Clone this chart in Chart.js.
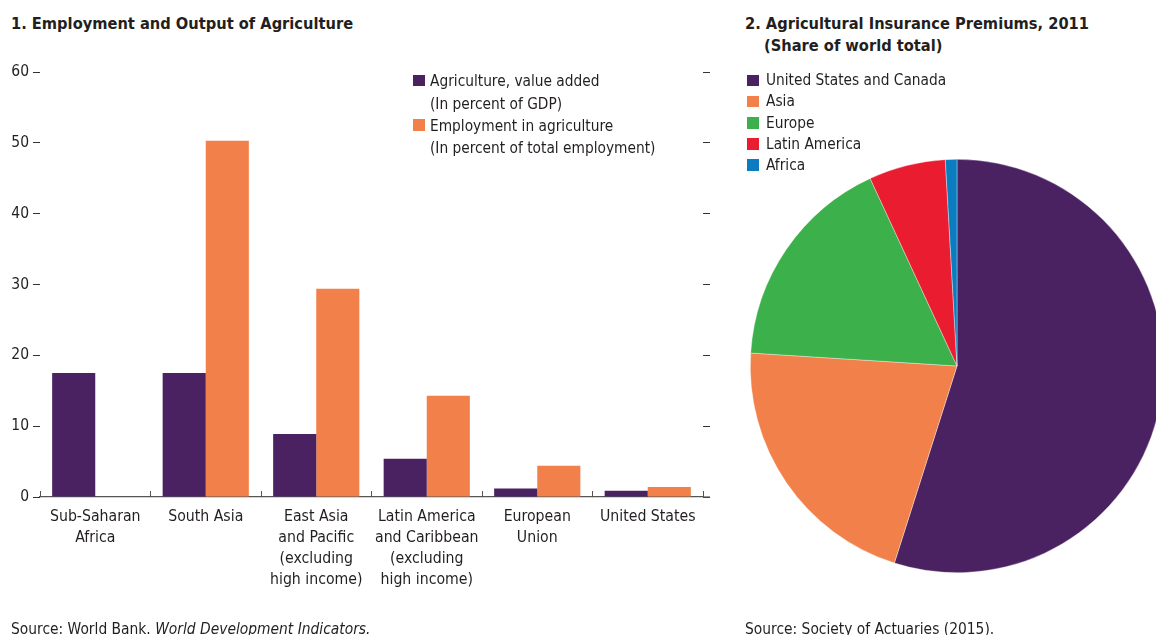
<!DOCTYPE html>
<html>
<head>
<meta charset="utf-8">
<script src="https://cdn.jsdelivr.net/npm/chart.js@4.4.1/dist/chart.umd.min.js"></script>
<style>
  html, body { margin: 0; padding: 0; background: #fff; }
  body {
    position: relative; width: 1156px; height: 635px; overflow: hidden;
    font-family: 'DejaVu Sans Condensed', 'Liberation Sans Narrow', sans-serif;
    color: #231f20;
  }
  .title { position: absolute; font-weight: bold; font-size: 16.3px; line-height: 22px; white-space: nowrap; }
  .source { position: absolute; font-size: 15.4px; line-height: 20px; white-space: nowrap; top: 618.7px; }
  .legend { position: absolute; font-size: 15.3px; white-space: nowrap; }
  .legend .item { position: relative; }
  .legend .box { position: absolute; width: 11.5px; height: 11.5px; top: 4.5px; }
  canvas { position: absolute; }
</style>
</head>
<body>
<div class="title" style="left:11px; top:13px;">1. Employment and Output of Agriculture</div>
<div class="title" style="left:745px; top:13.4px;">2. Agricultural Insurance Premiums, 2011</div>
<div class="title" style="left:764px; top:35.4px;">(Share of world total)</div>

<canvas id="barChart" width="720" height="635" style="left:0; top:0;"></canvas>
<canvas id="pieChart" width="430" height="430" style="left:742px; top:151px;"></canvas>

<div class="legend" id="barLegend" style="left:413px; top:70.3px; line-height:22.2px;"></div>
<div class="legend" id="pieLegend" style="left:747px; top:70.1px; line-height:21.2px;"></div>

<div class="source" style="left:11px;">Source: World Bank. <i>World Development Indicators.</i></div>
<div class="source" style="left:745px;">Source: Society of Actuaries (2015).</div>

<script>
// Panel 1: agriculture share of GDP vs share of employment
const regions = [
    ['Sub-Saharan', 'Africa'],
    ['South Asia'],
    ['East Asia', 'and Pacific', '(excluding', 'high income)'],
    ['Latin America', 'and Caribbean', '(excluding', 'high income)'],
    ['European', 'Union'],
    ['United States']
];
const valueAdded = [17.5, 17.5, 8.9, 5.4, 1.2, 0.9];
const employment = [null, 50.3, 29.4, 14.3, 4.4, 1.4];
const barSeries = [
    ['Agriculture, value added', '(In percent of GDP)'],
    ['Employment in agriculture', '(In percent of total employment)']
];
const yMin = 0, yMax = 60, yStep = 10;

// Panel 2: agricultural insurance premiums, share of world total
const premiumRegions = ['United States and Canada', 'Asia', 'Europe', 'Latin America', 'Africa'];
const premiumShares = [54.9, 21.1, 17.1, 6.0, 0.9];

const PURPLE = '#4a2262';
const ORANGE = '#f2804a';
const pieColors = [PURPLE, ORANGE, '#3cb14b', '#e91d2f', '#0b7cbf'];
const barColors = [PURPLE, ORANGE];

const FONT = "'DejaVu Sans Condensed', 'Liberation Sans Narrow', sans-serif";
const TEXT = '#231f20';
const AXIS = '#555';

function buildLegend(id, labels, colors, indent) {
    const el = document.getElementById(id);
    el.innerHTML = labels.map((lines, i) => {
        lines = Array.isArray(lines) ? lines : [lines];
        return `<div class="item" style="padding-left:${indent}px"><span class="box" style="background:${colors[i]}; left:0;"></span>${lines.join('<br>')}</div>`;
    }).join('');
}

// carry the baseline on under the right-hand tick marks
const axisRunout = {
    id: 'axisRunout',
    afterDraw(chart) {
        const { ctx, chartArea } = chart;
        const y2 = chart.scales.y2;
        ctx.save();
        ctx.strokeStyle = AXIS;
        ctx.lineWidth = 1.2;
        ctx.beginPath();
        ctx.moveTo(chartArea.right, chartArea.bottom);
        ctx.lineTo(y2.right, chartArea.bottom);
        ctx.stroke();
        ctx.restore();
    }
};

function renderBarChart() {
    const ctx = document.getElementById('barChart').getContext('2d');
    new Chart(ctx, {
        type: 'bar',
        data: {
            labels: regions,
            datasets: [{
                label: barSeries[0].join(' '),
                data: valueAdded,
                backgroundColor: barColors[0],
                yAxisID: 'y'
            }, {
                label: barSeries[1].join(' '),
                data: employment,
                backgroundColor: barColors[1],
                yAxisID: 'y'
            }]
        },
        options: {
            responsive: false,
            animation: false,
            events: [],
            layout: { padding: { top: 72, right: 10, left: 0, bottom: 0 } },
            datasets: { bar: { categoryPercentage: 0.78, barPercentage: 1 } },
            plugins: { legend: { display: false }, tooltip: { enabled: false } },
            scales: {
                x: {
                    grid: { offset: true, drawOnChartArea: false, drawTicks: true, tickLength: -6, color: AXIS, lineWidth: 1 },
                    border: { display: true, color: AXIS, width: 1.2 },
                    ticks: {
                        color: TEXT, padding: 15, maxRotation: 0, autoSkip: false,
                        font: { family: FONT, size: 15.7, lineHeight: 1.34 }
                    },
                    afterFit: axis => { axis.height = 138; }
                },
                y: {
                    min: yMin, max: yMax,
                    grid: { drawOnChartArea: false, drawTicks: true, tickLength: 7, color: '#333' },
                    border: { display: false },
                    ticks: { stepSize: yStep, color: TEXT, padding: 4, font: { family: FONT, size: 15.5 } },
                    afterFit: axis => { axis.width = 40; }
                },
                y2: {
                    position: 'right',
                    min: yMin, max: yMax,
                    grid: { drawOnChartArea: false, drawTicks: true, tickLength: 7, color: '#333' },
                    border: { display: false },
                    ticks: { stepSize: yStep, display: false },
                    afterFit: axis => { axis.width = 7; }
                }
            }
        },
        plugins: [axisRunout]
    });
}

function renderPieChart() {
    const ctx = document.getElementById('pieChart').getContext('2d');
    new Chart(ctx, {
        type: 'pie',
        data: {
            labels: premiumRegions,
            datasets: [{
                data: premiumShares,
                backgroundColor: pieColors,
                borderColor: 'rgba(255,255,255,0.6)',
                borderWidth: 0.6
            }]
        },
        options: {
            responsive: false,
            animation: false,
            events: [],
            layout: { padding: 8 },
            plugins: { legend: { display: false }, tooltip: { enabled: false } }
        }
    });
}

buildLegend('barLegend', barSeries, barColors, 17);
buildLegend('pieLegend', premiumRegions, pieColors, 19);
renderBarChart();
renderPieChart();
</script>
</body>
</html>
